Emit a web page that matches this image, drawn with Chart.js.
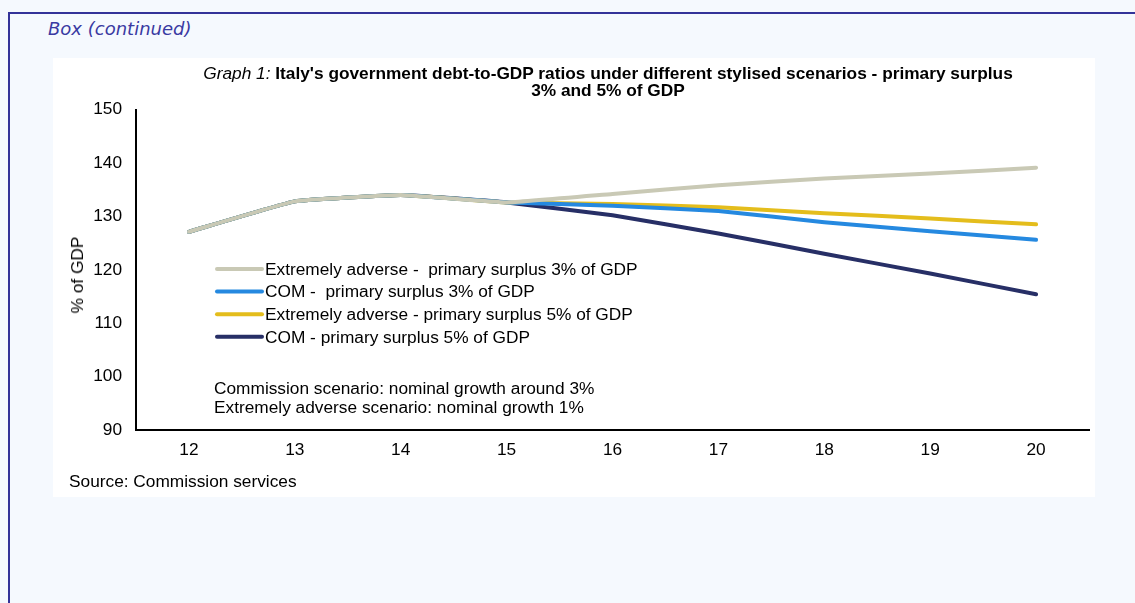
<!DOCTYPE html>
<html>
<head>
<meta charset="utf-8">
<script src="https://cdn.jsdelivr.net/npm/chart.js@4/dist/chart.umd.min.js"></script>
<style>
	body{margin:0;width:1135px;height:603px;background:#f5f9fe;position:relative;overflow:hidden;font-family:"Liberation Sans",Arial,sans-serif;color:#000}
	#frame{position:absolute;left:8px;top:12px;right:-4px;bottom:-4px;border-top:2px solid #333399;border-left:2px solid #333399}
	#box{position:absolute;left:48px;top:18px;font:italic 18px "DejaVu Sans",sans-serif;color:#3a3aa2}
	#panel{position:absolute;left:53px;top:58px;width:1042px;height:439px;background:#fff}
	#title{position:absolute;left:0;top:7px;width:1110px;text-align:center;font-size:17.3px;line-height:17px;font-weight:bold}
	#title i{font-weight:normal}
	#ytitle{position:absolute;left:24px;top:217px;width:0;height:0}
	#ytitle span{position:absolute;left:0;top:0;transform:translate(-50%,-50%) rotate(-90deg);white-space:nowrap;font-size:17.3px;line-height:20px}
	#note{position:absolute;left:161px;top:321px;font-size:17.3px;line-height:19px}
	#source{position:absolute;left:16px;top:413px;font-size:17.3px;line-height:20px}
	canvas{position:absolute;left:0;top:0}
</style>
</head>
<body>
<div id="frame"></div>
<div id="box">Box (continued)</div>
<div id="panel">
	<canvas id="debtChart" width="1042" height="439"></canvas>
	<div id="title"><i>Graph 1:</i> Italy's government debt-to-GDP ratios under different stylised scenarios - primary surplus<br>3% and 5% of GDP</div>
	<div id="ytitle"><span>% of GDP</span></div>
	<div id="note">Commission scenario: nominal growth around 3%<br>Extremely adverse scenario: nominal growth 1%</div>
	<div id="source">Source: Commission services</div>
</div>
<script>
const years = ['12','13','14','15','16','17','18','19','20']
const extAdverse3 = [127.1,132.8,134.0,132.6,134.2,135.8,137.1,138.0,139.1]
const com3 = [127.1,132.8,134.0,132.6,132.0,131.0,128.9,127.2,125.6]
const extAdverse5 = [127.1,132.8,134.0,132.6,132.3,131.7,130.6,129.6,128.5]
const com5 = [127.1,132.8,134.0,132.6,130.2,126.8,123.0,119.3,115.4]
const yTicks = [90,100,110,120,130,140,150]

const font = {family:'"Liberation Sans", Arial, sans-serif', size:17.3}

// legend drawn inside the plot, like the original
const innerLegend = {
	id:'innerLegend',
	afterDatasetsDraw(chart) {
		const ctx = chart.ctx
		const x0 = chart.chartArea.left + 81
		const y0 = chart.chartArea.top + 159.5
		ctx.save()
		ctx.font = '17.3px "Liberation Sans", Arial, sans-serif'
		ctx.textBaseline = 'middle'
		chart.data.datasets.forEach(function (ds, i) {
			const y = y0 + i * 22.6
			ctx.strokeStyle = ds.borderColor
			ctx.lineWidth = 4
			ctx.lineCap = 'round'
			ctx.beginPath()
			ctx.moveTo(x0, y)
			ctx.lineTo(x0 + 45, y)
			ctx.stroke()
			ctx.fillStyle = '#000'
			ctx.fillText(ds.label, x0 + 48, y + 1)
		})
		ctx.restore()
	}
}

function line(label, data, color) {
	return {
		label: label,
		data: data,
		borderColor: color,
		backgroundColor: color,
		borderWidth: 4,
		borderCapStyle: 'round',
		borderJoinStyle: 'round',
		pointRadius: 0,
		tension: 0.1,
		fill: false
	}
}

new Chart(document.getElementById('debtChart'), {
	type: 'line',
	data: {
		labels: years,
		datasets: [
			line('Extremely adverse -  primary surplus 3% of GDP', extAdverse3, '#c9c9b5'),
			line('COM -  primary surplus 3% of GDP', com3, '#2589e0'),
			line('Extremely adverse - primary surplus 5% of GDP', extAdverse5, '#e4bd1c'),
			line('COM - primary surplus 5% of GDP', com5, '#272f66'),
		],
	},
	options: {
		responsive: false,
		animation: false,
		devicePixelRatio: 1,
		layout: {padding: {left: 0, right: 6, top: 51.5, bottom: 0}},
		plugins: {legend: {display: false}, tooltip: {enabled: false}},
		scales: {
			x: {
				offset: true,
				grid: {display: false, drawTicks: false},
				border: {display: true, color: '#000', width: 2},
				ticks: {color: '#000', font: font, padding: 10, maxRotation: 0},
				afterFit: function (scale) { scale.height = 67 },
			},
			y: {
				min: 90,
				max: 150,
				grid: {display: false, drawTicks: false},
				border: {display: true, color: '#000', width: 2},
				afterBuildTicks: function (scale) { scale.ticks = yTicks.map(v => ({value: v})) },
				ticks: {color: '#000', font: font, padding: 14},
				afterFit: function (scale) { scale.width = 83 },
			},
		},
	},
	plugins: [innerLegend],
})
</script>
</body>
</html>
